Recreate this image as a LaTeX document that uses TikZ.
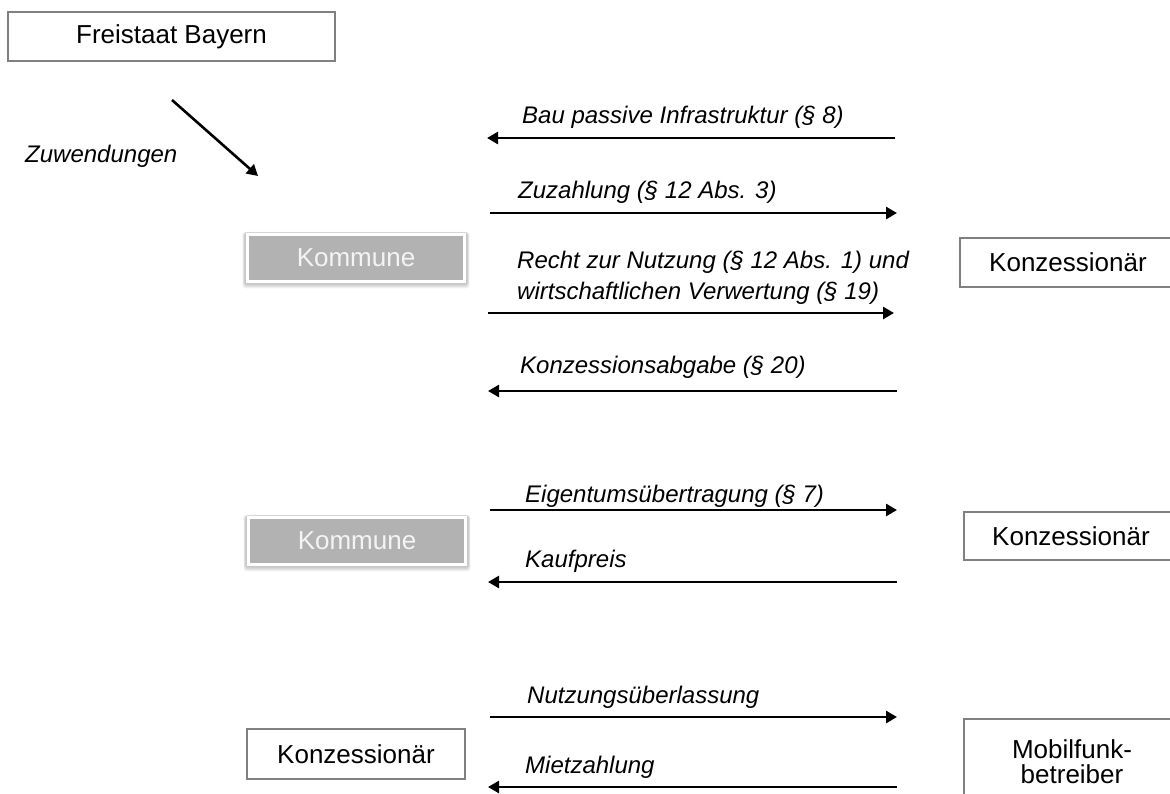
\documentclass[tikz,border=0pt]{standalone}
\usepackage{fontspec}
\setmainfont{Liberation Sans}
\usetikzlibrary{arrows.meta,backgrounds}
\definecolor{boxgray}{HTML}{808080}
\definecolor{komfill}{HTML}{B2B2B2}
\definecolor{komtext}{HTML}{F4F4F4}
\begin{document}
\begin{tikzpicture}[x=1pt,y=-1pt,
  box/.style={draw=boxgray, line width=1.5pt, fill=white, inner sep=0pt, font=\fontsize{26}{26}\selectfont, align=center},
  kom/.style={draw=white, line width=3pt, fill=komfill, text=komtext, inner sep=0pt, minimum width=217pt, minimum height=47pt, font=\fontsize{26}{28}\selectfont},
  softshadow/.style={fill=black, opacity=0.06, rounded corners=3pt},
  lbl/.style={anchor=base west, inner sep=0pt, font=\fontsize{24}{31}\selectfont\itshape, align=left},
  flow/.style={line width=2.6pt, -{Triangle[length=11pt,width=12pt]}},
]
\useasboundingbox (0,0) rectangle (1170,793);
\clip (0,0) rectangle (1170,793);

% boxes
\node[box, minimum width=327pt, minimum height=49pt] (fb) at (171.5,36.5) {Freistaat Bayern};
\node[kom] (kom1) at (356,258) {Kommune};
\node[box, minimum width=216pt, minimum height=49pt] (konz1) at (1068,262.5) {Konzessionär};
\node[kom] (kom2) at (357,541) {Kommune};
\node[box, minimum width=214pt, minimum height=48pt] (konz2) at (1071,536) {Konzessionär};
\node[box, minimum width=218pt, minimum height=50pt] (konz3) at (356,754) {Konzessionär};
\node[box, minimum width=216pt, minimum height=100pt, anchor=north] (mfb) at (1072,718) {};
\node[anchor=base, inner sep=0pt, font=\fontsize{26}{26}\selectfont] (mfbt1) at (1072,758) {Mobilfunk-};
\node[anchor=base, inner sep=0pt, font=\fontsize{26}{26}\selectfont] (mfbt2) at (1072,783) {betreiber};

% soft shadows under the Kommune boxes
\begin{scope}[on background layer]
  \foreach \n in {kom1,kom2}{
    \foreach \i in {1,2,3,4}{
      \fill[softshadow] ([xshift=-\i*0.6pt-1pt, yshift=-\i*1.2pt-0.5pt]\n.south west)
        rectangle ([xshift=\i*0.6pt+1pt, yshift=\i*0.3pt]\n.north east);
    }
  }
\end{scope}

% Zuwendungen
\coordinate (zs) at (172,100);
\coordinate (ze) at (258,176);
\draw[flow] (zs) -- (ze);
\node[lbl] (lz) at (25,162) {Zuwendungen};

% group 1
\coordinate (a1r) at (895,138); \coordinate (a1l) at (487,138);
\draw[flow] (a1r) -- (a1l);
\node[lbl] (l1) at (522,123) {Bau passive Infrastruktur (§ 8)};

\coordinate (a2l) at (490,213); \coordinate (a2r) at (897,213);
\draw[flow] (a2l) -- (a2r);
\node[lbl] (l2) at (518,198) {Zuzahlung (§ 12 Abs. 3)};

\coordinate (a3l) at (488,313); \coordinate (a3r) at (894,313);
\draw[flow] (a3l) -- (a3r);
\node[lbl] (l3a) at (517,268) {Recht zur Nutzung (§ 12 Abs. 1) und};
\node[lbl] (l3b) at (517,299) {wirtschaftlichen Verwertung (§ 19)};

\coordinate (a4r) at (897,391); \coordinate (a4l) at (488,391);
\draw[flow] (a4r) -- (a4l);
\node[lbl] (l4) at (520,373) {Konzessionsabgabe (§ 20)};

% group 2
\coordinate (a5l) at (490,510); \coordinate (a5r) at (897,510);
\draw[flow] (a5l) -- (a5r);
\node[lbl] (l5) at (525,502) {Eigentumsübertragung (§ 7)};

\coordinate (a6r) at (897,582); \coordinate (a6l) at (488,582);
\draw[flow] (a6r) -- (a6l);
\node[lbl] (l6) at (525,567) {Kaufpreis};

% group 3
\coordinate (a7l) at (490,717); \coordinate (a7r) at (897,717);
\draw[flow] (a7l) -- (a7r);
\node[lbl] (l7) at (527,703) {Nutzungsüberlassung};

\coordinate (a8r) at (897,787); \coordinate (a8l) at (488,787);
\draw[flow] (a8r) -- (a8l);
\node[lbl] (l8) at (525,773) {Mietzahlung};
\end{tikzpicture}
\end{document}
